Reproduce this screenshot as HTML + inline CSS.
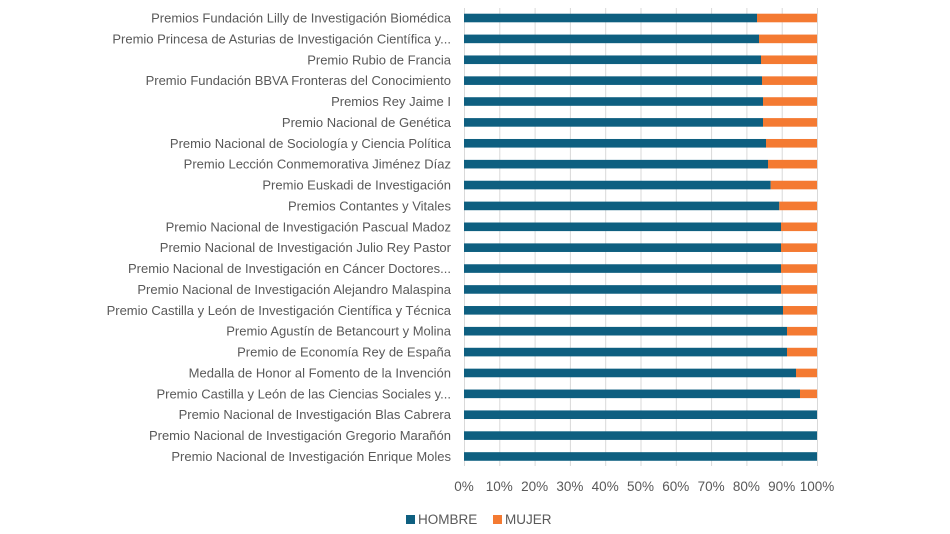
<!DOCTYPE html>
<html><head><meta charset="utf-8"><style>
html,body{margin:0;padding:0;background:#fff;}
svg{display:block;font-family:"Liberation Sans",sans-serif;}
</style></head><body>
<svg width="950" height="534" viewBox="0 0 950 534" xmlns="http://www.w3.org/2000/svg">
<g stroke="#d9d9d9" stroke-width="1">
<line x1="464.5" y1="8" x2="464.5" y2="466"/>
<line x1="499.8" y1="8" x2="499.8" y2="466"/>
<line x1="535.1" y1="8" x2="535.1" y2="466"/>
<line x1="570.4" y1="8" x2="570.4" y2="466"/>
<line x1="605.7" y1="8" x2="605.7" y2="466"/>
<line x1="641" y1="8" x2="641" y2="466"/>
<line x1="676.3" y1="8" x2="676.3" y2="466"/>
<line x1="711.6" y1="8" x2="711.6" y2="466"/>
<line x1="746.9" y1="8" x2="746.9" y2="466"/>
<line x1="782.2" y1="8" x2="782.2" y2="466"/>
<line x1="817.5" y1="8" x2="817.5" y2="466"/>
</g>
<g id="bars"></g>
<g font-size="13" fill="#595959" text-anchor="end" id="labels"></g>
<g font-size="13.5" fill="#595959" text-anchor="middle">
<text x="464" y="491">0%</text><text x="499.3" y="491">10%</text><text x="534.6" y="491">20%</text><text x="569.9" y="491">30%</text><text x="605.2" y="491">40%</text><text x="640.5" y="491">50%</text><text x="675.8" y="491">60%</text><text x="711.1" y="491">70%</text><text x="746.4" y="491">80%</text><text x="781.7" y="491">90%</text><text x="817" y="491">100%</text>
</g>
<rect x="406" y="515" width="9" height="9" fill="#0e5f80"/>
<text x="418" y="524" font-size="13.5" fill="#595959">HOMBRE</text>
<rect x="493" y="515" width="9" height="9" fill="#f47a32"/>
<text x="505" y="524" font-size="13.5" fill="#595959">MUJER</text>
<script>
var d=[["Premios Fundación Lilly de Investigación Biomédica",757],["Premio Princesa de Asturias de Investigación Científica y...",759],["Premio Rubio de Francia",761],["Premio Fundación BBVA Fronteras del Conocimiento",762],["Premios Rey Jaime I",763],["Premio Nacional de Genética",763],["Premio Nacional de Sociología y Ciencia Política",766],["Premio Lección Conmemorativa Jiménez Díaz",768],["Premio Euskadi de Investigación",770.7],["Premios Contantes y Vitales",779.3],["Premio Nacional de Investigación Pascual Madoz",781],["Premio Nacional de Investigación Julio Rey Pastor",781],["Premio Nacional de Investigación en Cáncer Doctores...",781],["Premio Nacional de Investigación Alejandro Malaspina",781],["Premio Castilla y León de Investigación Científica y Técnica",783],["Premio Agustín de Betancourt y Molina",787],["Premio de Economía Rey de España",787],["Medalla de Honor al Fomento de la Invención",796],["Premio Castilla y León de las Ciencias Sociales y...",800],["Premio Nacional de Investigación Blas Cabrera",817],["Premio Nacional de Investigación Gregorio Marañón",817],["Premio Nacional de Investigación Enrique Moles",817]];
var ns="http://www.w3.org/2000/svg",b=document.getElementById("bars"),l=document.getElementById("labels");
d.forEach(function(r,i){var c=18+i*20.88;
var a=document.createElementNS(ns,"rect");a.setAttribute("x",464);a.setAttribute("y",c-4.3);a.setAttribute("width",r[1]-464);a.setAttribute("height",8.6);a.setAttribute("fill","#0e5f80");b.appendChild(a);
if(r[1]<817){var o=document.createElementNS(ns,"rect");o.setAttribute("x",r[1]);o.setAttribute("y",c-4.3);o.setAttribute("width",817-r[1]);o.setAttribute("height",8.6);o.setAttribute("fill","#f47a32");b.appendChild(o);}
var t=document.createElementNS(ns,"text");t.setAttribute("x",451);t.setAttribute("y",c+4.5);t.textContent=r[0];l.appendChild(t);});
</script>
</svg>
</body></html>
